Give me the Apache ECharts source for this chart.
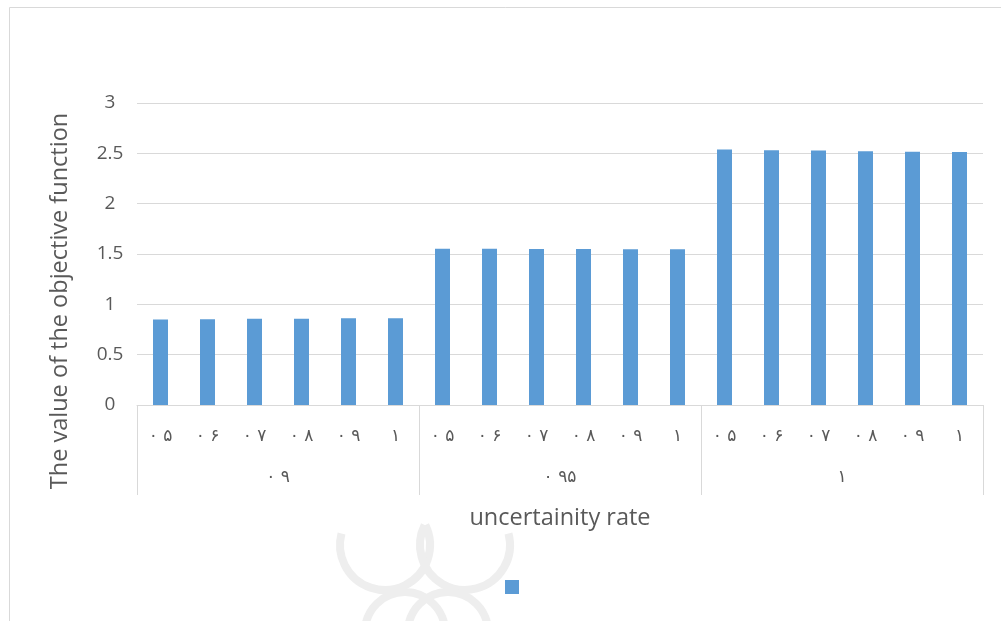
<!DOCTYPE html>
<html>
<head>
<meta charset="utf-8">
<script src="https://cdn.jsdelivr.net/npm/echarts@6/dist/echarts.min.js"></script>
<style>
  html, body { margin: 0; padding: 0; background: #ffffff; }
  #chart { width: 1001px; height: 621px; }
</style>
</head>
<body>
<div id="chart"></div>
<script>
// Inner categories (rate levels) and outer groups, in Persian digits
const rateLabels = ['۰ ۵', '۰ ۶', '۰ ۷', '۰ ۸', '۰ ۹', '۱'];
const groupLabels = ['۰ ۹', '۰ ۹۵', '۱'];

// Objective function values per group
const valuesGroup1 = [0.850, 0.853, 0.856, 0.857, 0.862, 0.861];
const valuesGroup2 = [1.552, 1.551, 1.550, 1.549, 1.546, 1.546];
const valuesGroup3 = [2.537, 2.530, 2.527, 2.520, 2.516, 2.513];

const yTicks = { min: 0, max: 3, interval: 0.5 };

const innerCategories = [];
groupLabels.forEach(() => rateLabels.forEach(r => innerCategories.push(r)));
const allValues = valuesGroup1.concat(valuesGroup2, valuesGroup3);

const textColor = '#595959';
const lineColor = '#d9d9d9';
const font = '"Open Sans", Lato, sans-serif';
const digitFont = '"DejaVu Sans", sans-serif';
const emblem = '#eeeeee';

const chart = echarts.init(document.getElementById('chart'));
chart.setOption({
  backgroundColor: '#ffffff',
  animation: false,
  grid: { left: 137, right: 18, top: 103, bottom: 216, containLabel: false },
  legend: {
    show: true,
    left: 500,
    top: 575,
    icon: 'rect',
    itemWidth: 14,
    itemHeight: 14,
    formatter: () => '',
    data: ['value']
  },
  xAxis: [
    {
      type: 'category',
      data: innerCategories,
      position: 'bottom',
      axisLine: { show: true, lineStyle: { color: lineColor, width: 1 } },
      axisTick: { show: false },
      axisLabel: {
        interval: 0,
        margin: 23,
        color: textColor,
        fontSize: 17,
        fontFamily: digitFont
      }
    },
    {
      type: 'category',
      data: groupLabels,
      position: 'bottom',
      axisLine: { show: false },
      axisTick: { show: true, length: 90, alignWithLabel: false, lineStyle: { color: lineColor, width: 1 } },
      axisLabel: {
        interval: 0,
        margin: 64,
        color: textColor,
        fontSize: 17,
        fontFamily: digitFont
      },
      name: 'uncertainity rate',
      nameLocation: 'middle',
      nameGap: 101,
      nameTextStyle: { color: textColor, fontSize: 23.5, fontFamily: font }
    }
  ],
  yAxis: {
    type: 'value',
    min: yTicks.min,
    max: yTicks.max,
    interval: yTicks.interval,
    axisLine: { show: false },
    axisTick: { show: false },
    axisLabel: { color: textColor, fontSize: 19, fontFamily: font, margin: 27, align: 'center' },
    splitLine: { show: true, lineStyle: { color: lineColor, width: 1 } }
  },
  series: [
    {
      name: 'value',
      type: 'bar',
      xAxisIndex: 0,
      data: allValues,
      barWidth: 15,
      itemStyle: { color: '#5B9BD5' }
    }
  ],
  graphic: [
    {
      type: 'rect',
      silent: true,
      z: -10,
      shape: { x: 9.5, y: 7.5, width: 1000, height: 620 },
      style: { fill: 'none', stroke: lineColor, lineWidth: 1 }
    },
    // faint emblem behind the lower part of the page
    {
      type: 'group',
      silent: true,
      z: -20,
      children: [
        { type: 'arc', shape: { cx: 385, cy: 545, r: 45, startAngle: -0.46, endAngle: 3.4, clockwise: true }, style: { stroke: emblem, lineWidth: 8, fill: 'none' } },
        { type: 'arc', shape: { cx: 465, cy: 545, r: 45, startAngle: -0.26, endAngle: 3.6, clockwise: true }, style: { stroke: emblem, lineWidth: 8, fill: 'none' } },
        { type: 'arc', shape: { cx: 405, cy: 632, r: 40, startAngle: Math.PI, endAngle: 2 * Math.PI, clockwise: true }, style: { stroke: emblem, lineWidth: 8, fill: 'none' } },
        { type: 'arc', shape: { cx: 448, cy: 632, r: 40, startAngle: Math.PI, endAngle: 2 * Math.PI, clockwise: true }, style: { stroke: emblem, lineWidth: 8, fill: 'none' } }
      ]
    },
    {
      type: 'text',
      silent: true,
      x: 60,
      y: 301,
      rotation: Math.PI / 2,
      style: {
        text: 'The value of the objective function',
        fill: textColor,
        fontSize: 23.5,
        fontFamily: font,
        align: 'center',
        verticalAlign: 'middle'
      }
    }
  ]
});
</script>
</body>
</html>
